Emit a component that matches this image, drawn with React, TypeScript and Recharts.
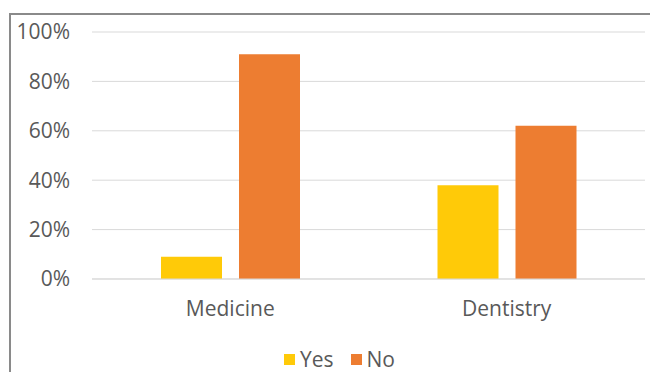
import { BarChart, Bar, XAxis, YAxis, CartesianGrid, Legend } from 'recharts';

// faculties on the x axis
const categories = ['Medicine', 'Dentistry'];
// share of answers, percent
const yesValues = [9, 38];
const noValues = [91, 62];
const yTicks = [0, 20, 40, 60, 80, 100];

const YES_COLOR = '#FFCA08';
const NO_COLOR = '#ED7D31';
const TEXT_COLOR = '#595959';
const FONT = '"Open Sans", sans-serif';

const data = categories.map((name, i) => ({ name, yes: yesValues[i], no: noValues[i] }));

const renderLegend = () => {
    const items = [
        { label: 'Yes', color: YES_COLOR },
        { label: 'No', color: NO_COLOR },
    ];
    return (
        <div style={{ display: 'flex', justifyContent: 'center', gap: 17, paddingLeft: 34, fontFamily: FONT, fontSize: 21, lineHeight: '28px', color: TEXT_COLOR }}>
            {items.map((it) => (
                <div key={it.label} style={{ display: 'flex', alignItems: 'center', gap: 5 }}>
                    <span style={{ width: 11, height: 11, background: it.color, display: 'inline-block' }} />
                    <span>{it.label}</span>
                </div>
            ))}
        </div>
    );
};

export default function App() {
    return (
        <div style={{ position: 'absolute', left: 0, top: 0, width: 650, height: 372, overflow: 'hidden', background: '#fff' }}>
            {/* frame: only left and top edges are visible in the crop */}
            <div style={{ position: 'absolute', left: 9, top: 13, width: 700, height: 400, borderLeft: '2px solid #8a8a8a', borderTop: '2px solid #8a8a8a' }} />
            <div style={{ position: 'absolute', left: 0, top: 0 }}>
                <BarChart width={650} height={372} data={data} margin={{ top: 32, right: 5, left: 0, bottom: 0 }} barGap={17} barSize={61}>
                    <CartesianGrid vertical={false} stroke="#d9d9d9" />
                    <XAxis
                        dataKey="name"
                        axisLine={{ stroke: '#d9d9d9' }}
                        tickLine={false}
                        tickSize={0}
                        tickMargin={22}
                        height={65}
                        tick={{ fill: TEXT_COLOR, fontSize: 21, fontFamily: FONT }}
                    />
                    <YAxis
                        domain={[0, 100]}
                        ticks={yTicks}
                        tickFormatter={(v) => `${v}%`}
                        axisLine={false}
                        tickLine={false}
                        tickSize={0}
                        tickMargin={22}
                        width={92}
                        tick={{ fill: TEXT_COLOR, fontSize: 21, fontFamily: FONT }}
                    />
                    <Legend verticalAlign="bottom" content={renderLegend} wrapperStyle={{ bottom: -1 }} />
                    <Bar dataKey="yes" name="Yes" fill={YES_COLOR} isAnimationActive={false} />
                    <Bar dataKey="no" name="No" fill={NO_COLOR} isAnimationActive={false} />
                </BarChart>
            </div>
        </div>
    );
}
